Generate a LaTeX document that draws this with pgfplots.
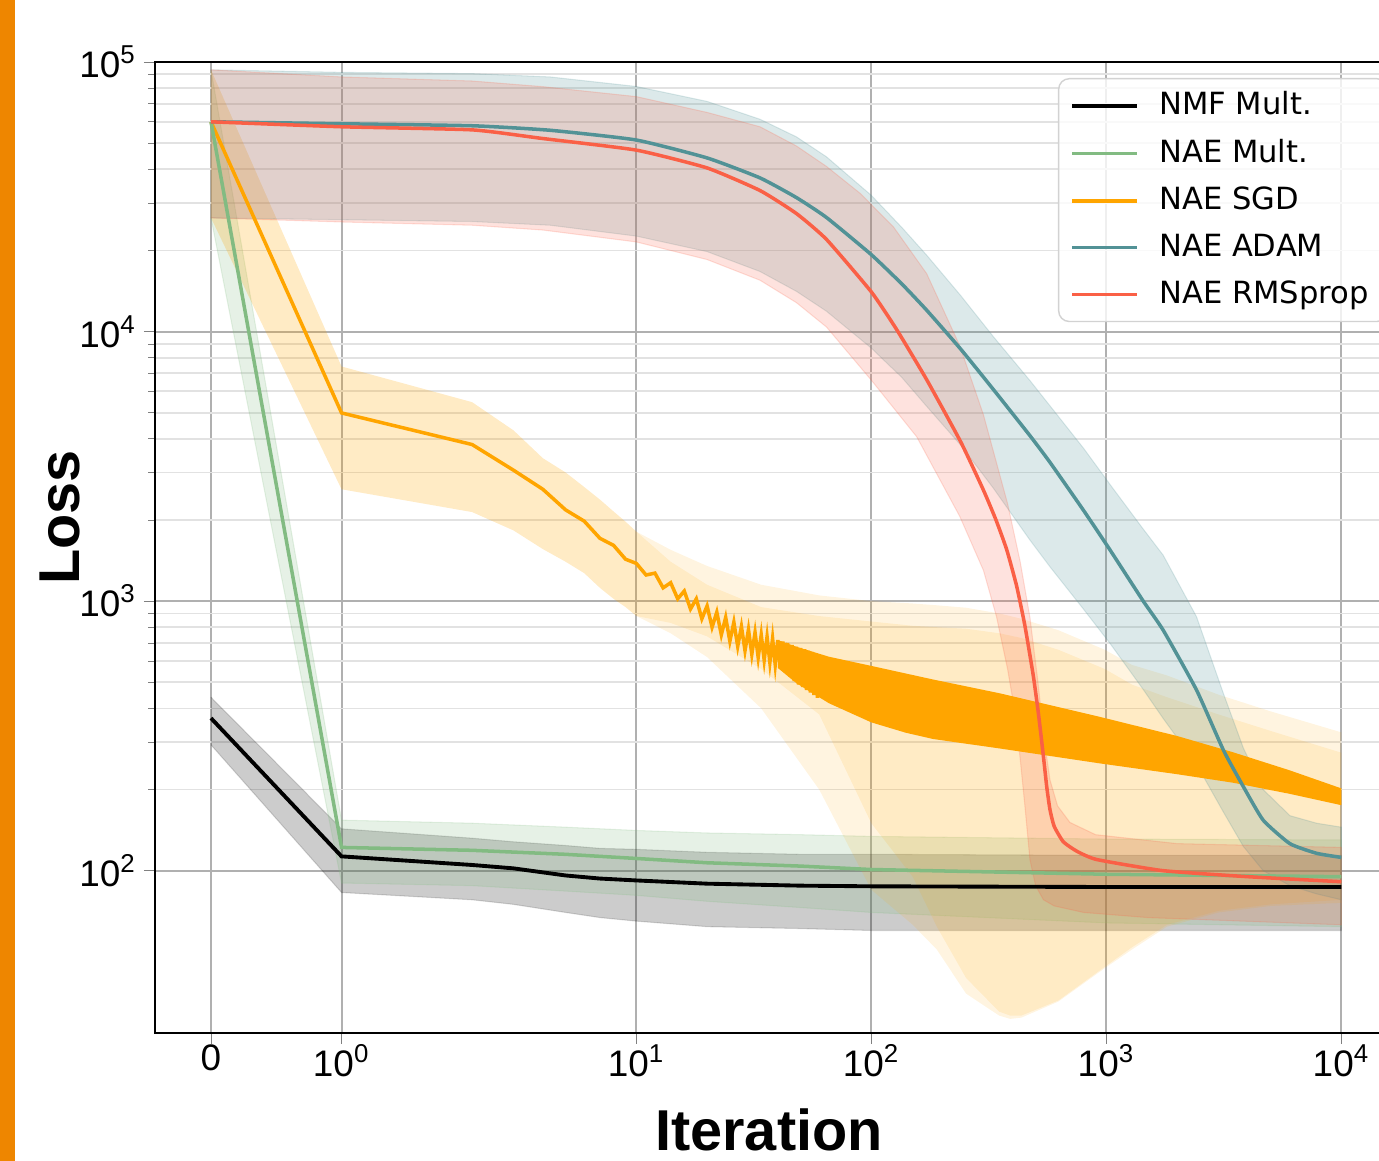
\documentclass[border=0pt]{standalone}
\usepackage{fontspec}
\setmainfont{Liberation Sans}
\newfontfamily\legfont{DejaVu Sans}
\usepackage{pgfplots}
\pgfplotsset{compat=1.18}
\usepackage{pgfplotstable}

\definecolor{cgreen}{RGB}{130,187,130}
\definecolor{corange}{RGB}{255,165,0}
\definecolor{cteal}{RGB}{82,146,150}
\definecolor{cred}{RGB}{250,96,70}
\definecolor{cbar}{RGB}{238,134,0}
\definecolor{gmajor}{RGB}{176,176,176}
\definecolor{gminor}{RGB}{226,226,226}
\definecolor{legedge}{RGB}{210,210,210}

% ---------- means ----------
\pgfplotstableread{
x y
0 368
1 113
2 105
3 102
5 96
7 93.5
10 92
20 89.5
50 88
100 87.5
1000 87
10000 87
}\nmfmean

\pgfplotstableread{
x y
0 60000
1 122
2 119
5 115
10 111
20 107
50 104
100 101
1000 97
10000 95
}\nmmean

% SGD mean: smooth start, then the alternating (zigzag) iterations
\pgfplotstableread{
x y
0 60000
1 4990
2 3810
3 3060
4 2600
5 2180
6 1980
7 1710
8 1610
9 1430
10 1380
11 1250
12 1270
13 1120
14 1170
15 1020
16 1090
17 935
18 1020
19 860
20 960
21 800
22 910
23 750
24 870
25 710
26 835
27 680
28 805
29 655
30 785
31 635
32 765
33 618
34 750
35 604
36 738
37 592
38 727
39 580
40 717
41 565
42 708
43 545
44 700
45 525
46 688
47 505
48 677
49 490
50 670
51 480
52 663
53 468
54 655
55 458
56 648
57 448
58 641
59 438
60 635
}\sgdmean

\pgfplotstableread{
x y
0 60000
1 59000
2 58000
4.3 55800
10 51340
20 44060
33.6 37150
48 31400
64.4 26500
100 19280
135 15000
172 12000
240 8610
330 6110
473 4110
576 3270
800 2170
1038 1546
1436 1000
1746 780
2420 468
3150 280
3830 205
4650 154
6040 126
7850 116
10000 112
}\adammean

\pgfplotstableread{
x y
0 60000
1 57500
2 56000
4 52000
10 47100
20 40450
33.6 33350
48 27400
64.4 21980
100 14030
128 10190
172 6630
240 3900
300 2580
340 1990
377 1550
415 1140
450 813
489 528
515 378
540 265
558 204
576 168
600 146
656 128
750 118
910 110
1746 100
4000 95
10000 91
}\rmsmean

% ---------- spread bands: upper edge left to right, lower edge back ----------
\pgfplotstableread{
x y
0 440
1 143
2 132
3 128
5 124
7 121
10 120
20 117
50 115
100 115
1000 114
10000 114
10000 60
1000 60
100 60
50 61
20 62
10 65
7 67
5 70
3 75
2 78
1 83
0 293
}\nmfband

\pgfplotstableread{
x y
0 93500
1 154
2 150
5 145
10 141
20 138
50 136
100 134
1000 131
10000 130
10000 62
1000 64
100 70
50 73
20 77
10 81
5 84
2 88
1 90
0 26400
}\nmband

\pgfplotstableread{
x y
0 93500
1 7420
2 5470
3 4300
4 3390
5 3000
6 2650
7 2380
8 2150
9 1970
10 1810
14 1550
20 1350
34 1150
60 1050
100 1000
150 980
190 965
253 945
350 900
390 880
435 860
625 780
985 660
1286 580
1812 530
3000 450
5000 390
10000 326
10000 76
5000 74
3000 70
1812 62
1286 51
985 43.5
625 32.7
435 28.5
390 28.2
350 29
253 35
190 51
150 63
100 85
60 200
34 400
20 620
14 760
10 881
9 950
8 1020
7 1120
6 1270
5 1400
4 1560
3 1830
2 2140
1 2600
0 26400
}\sgdouter

\pgfplotstableread{
x y
0 93500
1 7420
2 5470
3 4300
4 3390
5 3000
6 2650
7 2380
8 2150
9 1970
10 1810
14 1400
20 1150
34 950
60 880
100 840
150 810
190 800
253 790
350 760
390 745
435 730
625 660
985 560
1286 490
1812 440
3000 380
5000 330
10000 274
10000 78
5000 75
3000 71
1812 63
1286 52
985 44
625 33
435 29
390 29
350 30
253 40
190 62
150 95
100 150
60 380
34 560
20 740
14 830
10 881
9 950
8 1020
7 1120
6 1270
5 1400
4 1560
3 1830
2 2140
1 2600
0 26400
}\sgdinner

% envelope of the dense zigzag of the SGD mean
\pgfplotstableread{
x y
40 717
48 677
66 622
100 575
183 512
352 455
940 372
2000 316
3460 275
6000 236
10000 202
10000 175
6000 193
3460 212
2000 228
940 250
352 284
183 308
140 325
100 355
66 418
48 496
40 565
}\sgdosc

\pgfplotstableread{
x y
0 93500
1 91500
2 90500
4.3 88000
10 81100
20 71400
33.6 61300
48 52750
64.4 44500
100 32000
135 24300
172 19200
240 13600
330 9590
473 6580
576 5300
800 3690
1038 2705
1436 1850
1746 1480
2420 875
3150 454
3830 285
4650 200
6040 160
7850 150
10000 145
10000 78
7850 82
6040 88
4650 100
3830 123
3150 165
2420 248
1746 367
1436 470
1038 696
800 933
576 1340
473 1685
330 2630
240 3790
172 5280
135 6750
100 8680
64.4 11900
48 14100
33.6 16700
20 19800
10 22600
4.3 24800
2 25600
1 26000
0 26400
}\adamband

\pgfplotstableread{
x y
0 93500
1 88000
2 85000
4 81000
10 74400
20 65000
33.6 57500
48 48800
64.4 41000
89.5 32600
124 24500
172 16400
238 8850
300 4910
380 2300
430 1400
473 871
510 514
545 303
576 217
620 174
700 151
900 136
2000 126
10000 122
10000 63
1500 67
800 70
600 74
540 78
500 88
473 110
450 175
430 260
410 380
380 560
341 875
300 1300
238 2060
156 4070
100 6600
64.4 10400
48 12800
33.6 15500
20 18500
10 21500
4 23800
2 24800
1 25500
0 26400
}\rmsband

\begin{document}
\begin{tikzpicture}
\fill[cbar] (0,0) rectangle (0.15,11.61);
\begin{axis}[
  at={(1.55cm,1.28cm)}, anchor=south west,
  scale only axis,
  width=12.277cm, height=9.71cm,
  ymode=log, ymin=25, ymax=100000,
  % symlog x axis (linear below 2); limits and ticks in transformed units
  x filter/.expression={min(x,2)*0.5555556+ln(max(x,2)/2)*0.4342945},
  xmin=-0.2383, xmax=4.9862,
  xtick={0,0.5555556,1.81008,2.81008,3.81008,4.81008},
  xticklabels={0,10\textsuperscript{0},10\textsuperscript{1},10\textsuperscript{2},10\textsuperscript{3},10\textsuperscript{4}},
  ytick={100,1000,10000,100000},
  yticklabels={10\textsuperscript{2},10\textsuperscript{3},10\textsuperscript{4},10\textsuperscript{5}},
  tick label style={font=\fontsize{10.5}{12}\selectfont},
  xticklabel style={yshift=0.12cm},
  yticklabel style={xshift=0.05cm},
  tick align=outside,
  xtick pos=left, ytick pos=left,
  major tick length=0.11cm, minor tick length=0.065cm,
  axis line style={black, line width=0.6pt},
  xmajorgrids=true, ymajorgrids=true, yminorgrids=true,
  major grid style={draw=gmajor, line width=0.55pt},
  minor grid style={draw=gminor, line width=0.5pt},
  xlabel={Iteration},
  ylabel={Loss},
  xlabel style={font=\bfseries\fontsize{16.4}{18}\selectfont, at={(axis description cs:0.5001,-0.1215)}, anchor=base},
  ylabel style={font=\bfseries\fontsize{16.4}{18}\selectfont, at={(axis description cs:-0.0774,0.531)}, anchor=center},
  legend style={at={(0.7355,0.9835)}, anchor=north west,
    draw=legedge, rounded corners=3pt, fill=white, fill opacity=0.8, text opacity=1,
    font=\legfont\fontsize{8.7}{10}\selectfont,
    inner xsep=0.12cm, inner ysep=0.06cm, row sep=0.05cm},
  legend cell align=left,
  /tikz/every odd column/.append style={column sep=0.13cm},
  legend image code/.code={\draw[#1] (0cm,0cm) -- (0.65cm,0cm);},
]
\addlegendimage{black, line width=1pt}
\addlegendentry{NMF Mult.}
\addlegendimage{cgreen, line width=1pt}
\addlegendentry{NAE Mult.}
\addlegendimage{corange, line width=1pt}
\addlegendentry{NAE SGD}
\addlegendimage{cteal, line width=1pt}
\addlegendentry{NAE ADAM}
\addlegendimage{cred, line width=1pt}
\addlegendentry{NAE RMSprop}

% spread bands
\addplot[fill=black, fill opacity=0.2, draw=black, draw opacity=0.15, line width=0.3pt, forget plot] table{\nmfband};
\addplot[fill=cgreen, fill opacity=0.2, draw=cgreen, draw opacity=0.2, line width=0.3pt, forget plot] table{\nmband};
\addplot[fill=corange, fill opacity=0.12, draw=none, forget plot] table{\sgdouter};
\addplot[fill=corange, fill opacity=0.12, draw=none, forget plot] table{\sgdinner};
\addplot[fill=cteal, fill opacity=0.2, draw=cteal, draw opacity=0.2, line width=0.3pt, forget plot] table{\adamband};
\addplot[fill=cred, fill opacity=0.18, draw=cred, draw opacity=0.2, line width=0.3pt, forget plot] table{\rmsband};
\addplot[fill=corange, draw=none, forget plot] table{\sgdosc};

% mean lines
\addplot[corange, line width=1pt, forget plot] table{\sgdmean};
\addplot[cgreen, line width=1pt, forget plot] table{\nmmean};
\addplot[cteal, line width=1pt, smooth, tension=0.3, forget plot] table{\adammean};
\addplot[cred, line width=1pt, smooth, tension=0.3, forget plot] table{\rmsmean};
\addplot[black, line width=1.1pt, forget plot] table{\nmfmean};
\end{axis}
\pgfresetboundingbox
\path[use as bounding box] (0,0) rectangle (13.79,11.61);
\end{tikzpicture}
\end{document}
